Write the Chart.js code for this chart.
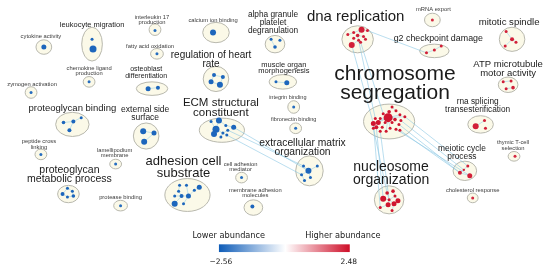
<!DOCTYPE html>
<html>
<head>
<meta charset="utf-8">
<script src="https://cdn.jsdelivr.net/npm/chart.js@4.4.0/dist/chart.umd.min.js"></script>
<style>
  html, body { margin: 0; padding: 0; background: #fff; }
  #wrap { width: 550px; height: 273px; position: relative; }
</style>
</head>
<body>
<div id="wrap"><canvas id="netChart"></canvas></div>
<script>
// ---- data ----
// term clusters (layout units: 0..550 across, 0..273 down)
const clusterNames = [
  'cytokine activity', 'leukocyte migration', 'interleukin 17\nproduction', 'fatty acid oxidation',
  'calcium ion binding', 'alpha granule\nplatelet\ndegranulation', 'dna replication', 'mRNA export',
  'g2 checkpoint damage', 'mitotic spindle', 'ATP microtubule\nmotor activity', 'chromosome\nsegregation',
  'rna splicing\ntransesterification', 'thymic T-cell\nselection', 'meiotic cycle\nprocess', 'nucleosome\norganization',
  'cholesterol response', 'zymogen activation', 'chemokine ligand\nproduction', 'osteoblast\ndifferentiation',
  'proteoglycan binding', 'external side\nsurface', 'peptide cross\nlinking', 'lamellipodium\nmembrane',
  'proteoglycan\nmetabolic process', 'protease binding', 'adhesion cell\nsubstrate', 'cell adhesion\nmediator',
  'membrane adhesion\nmolecules', 'regulation of heart\nrate', 'muscle organ\nmorphogenesis', 'integrin binding',
  'fibronectin binding', 'ECM structural\nconstituent', 'extracellular matrix\norganization'
];
// mean abundance (log2 fold change) of each cluster
const clusterScore = [
  -2.4, -2.4, -2.3, -2.3, -2.4, -2.4, 2.3, 2.2,
  2.3, 2.3, 2.3, 2.4, 2.3, 2.2, 2.3, 2.4,
  2.2, -2.3, -2.3, -2.4, -2.4, -2.4, -2.3, -2.3,
  -2.4, -2.3, -2.4, -2.3, -2.4, -2.4, -2.4, -2.3,
  -2.3, -2.4, -2.4
];
// cluster layout: centre and half-axes
const clusterX  = [40, 89, 153, 155, 215, 275, 359, 435, 437, 516, 512, 391, 484, 518, 468, 391, 476, 27, 86, 150, 69, 144, 37, 113, 65, 118, 186, 241, 253, 215, 283, 294, 296, 221, 310];
const clusterY  = [44, 41, 26, 51, 29, 41, 36, 16, 48, 36, 83, 121, 124, 157, 172, 202, 200, 91, 80, 87, 124, 136, 155, 165, 196, 208, 197, 179, 210, 77, 80, 106, 128, 130, 172];
const clusterRX = [8, 10.5, 6, 6.5, 13.5, 10, 16, 8, 15, 13, 10, 26, 13, 6, 12, 15, 5.5, 6, 6, 16, 17, 13, 6, 6, 11, 7, 23, 6, 9.5, 13, 14, 6, 6, 23, 14];
const clusterRY = [7.5, 17.5, 6, 5.5, 10.5, 9, 14, 7, 7, 12.5, 8, 18, 9, 5, 10, 14.5, 5, 6, 5.5, 7, 12.5, 13.5, 5.5, 5, 9, 5.5, 17, 5.5, 8, 13, 7.5, 6.5, 5.5, 12.5, 15.5];
// label anchor (centre of first line) and size
const labelX    = [37, 89, 150, 148, 212, 273, 357, 436, 441, 513, 512, 397, 481, 517, 465, 393, 476, 28, 86, 144, 69, 143, 35, 112, 66, 118, 182, 240, 255, 210, 284, 288, 294, 220, 303];
const labelY    = [33, 21, 13, 43, 16, 11, 13, 5.5, 35, 18, 62, 72, 101, 143, 149, 168, 192, 83, 66, 67, 107, 109, 142, 151, 171, 199, 162, 165, 192, 52, 62, 96, 119, 101.5, 143];
const labelSize = [5.8, 7.5, 5.8, 5.8, 5.8, 8.3, 15, 5.8, 8.9, 9.6, 9.5, 21, 8.3, 5.8, 8.4, 14, 5.8, 5.8, 5.8, 7, 9.5, 8.5, 5.8, 5.8, 10.5, 5.8, 13, 5.8, 5.8, 10, 7.5, 5.5, 5.6, 11.5, 10.3];

// member terms of each cluster: [x, y, size]
const clusterNodes = [
  [[40, 44, 2.5]],
  [[89, 36, 1.5], [90, 46, 3.5]],
  [[153, 27, 1.5]],
  [[155, 51, 1.5]],
  [[212, 29, 3]],
  [[271, 36, 1.5], [280, 37, 1.5], [275, 44, 1.8]],
  [[363, 26, 3], [355, 29, 1.5], [369, 27, 1.5], [349, 31, 1.5], [359, 32, 1.8], [365, 33, 1.5],
   [355, 35, 1.5], [360, 37, 1.5], [367, 36, 1.5], [353, 42, 3], [362, 39, 1.5]],
  [[435, 16, 1.5]],
  [[429, 50, 1.5], [437, 47, 1.5], [444, 43, 1.5]],
  [[510, 28, 1.5], [516, 36, 2], [509, 43, 1.5], [520, 39, 1.5]],
  [[507, 80, 1.5], [515, 79, 1.5], [510, 87, 1.5], [517, 86, 1.8]],
  [[390, 117, 4.5], [394, 106, 1.5], [398, 110, 1.5], [391, 111, 1.8], [385, 113, 1.5], [402, 114, 1.5],
   [407, 116, 1.5], [382, 118, 1.5], [377, 118, 1.5], [397, 119, 1.8], [403, 120, 1.5], [380, 122, 2.5],
   [387, 122, 1.5], [394, 122, 1.5], [375, 123, 2.5], [401, 124, 1.5], [378, 127, 2], [384, 127, 1.5],
   [392, 128, 1.5], [398, 129, 1.5], [382, 131, 1.5], [375, 128, 1.5], [388, 131, 1.5], [402, 130, 1.5]],
  [[479, 126, 3], [488, 120, 1.5], [489, 128, 1.5]],
  [[519, 157, 1.5]],
  [[463, 174, 2], [471, 167, 1.5], [473, 177, 2.5], [467, 171, 1.2]],
  [[389, 195, 1.8], [395, 193, 1.8], [385, 201, 3], [391, 202, 1.5], [397, 198, 1.5], [400, 203, 2.5],
   [390, 207, 2.5], [396, 206, 2.5], [382, 210, 1.5], [394, 213, 1.5]],
  [[476, 200, 1.5]],
  [[27, 91, 1.5]],
  [[86, 80, 1.5]],
  [[146, 87, 2.5], [156, 86, 2]],
  [[60, 122, 1.8], [70, 121, 2], [78, 117, 1.5], [66, 130, 2]],
  [[141, 131, 3], [152, 133, 2.5], [142, 142, 3]],
  [[37, 155, 1.5]],
  [[113, 165, 1.5]],
  [[64, 190, 1.5], [69, 193, 1.5], [59, 196, 2], [70, 198, 1.8], [64, 199, 1.5]],
  [[118, 208, 1.5]],
  [[185, 187, 1.5], [198, 189, 2.5], [177, 193, 1.5], [180, 198, 2], [187, 198, 2.5], [173, 198, 1.5],
   [173, 206, 3], [182, 206, 1.5], [193, 192, 1.5], [178, 187, 1.5]],
  [[241, 179, 1.5]],
  [[252, 209, 2]],
  [[213, 73, 2], [222, 75, 2], [210, 80, 2.5], [219, 83, 3]],
  [[276, 80, 1.5], [287, 81, 2.5]],
  [[294, 106, 1.5]],
  [[296, 128, 1.5]],
  [[210, 121, 1.5], [218, 120, 3], [225, 125, 1.5], [233, 127, 2.5], [215, 129, 3.5], [213, 134, 3],
   [222, 133, 1.5], [227, 130, 1.5], [220, 137, 1.5], [226, 135, 1.5]],
  [[309, 172, 3], [304, 167, 1.5], [318, 167, 1.5], [302, 176, 1.5], [311, 179, 1.5], [305, 182, 1.5]]
];

// shared-gene links between clusters: [clusterA, nodeA, clusterB, nodeB]
const crossLinks = [
  [6, 9, 11, 14], [6, 7, 11, 8], [6, 10, 11, 4], [6, 2, 8, 0],
  [11, 21, 15, 0], [11, 16, 15, 2], [11, 14, 15, 8], [11, 20, 15, 3],
  [11, 15, 14, 0], [11, 23, 14, 0], [11, 10, 14, 3], [11, 19, 14, 2], [11, 6, 14, 1],
  [33, 3, 34, 0], [33, 7, 34, 1], [33, 9, 34, 3]
];
// links inside a cluster: [cluster, nodeA, nodeB]
const innerLinks = [
  [6, 0, 1], [6, 0, 4], [6, 0, 2], [6, 4, 6], [6, 4, 7], [6, 7, 9], [6, 4, 5], [6, 1, 3], [6, 7, 10], [6, 5, 8],
  [11, 0, 3], [11, 0, 4], [11, 0, 5], [11, 0, 7], [11, 0, 9], [11, 0, 11], [11, 0, 12], [11, 0, 13],
  [11, 0, 14], [11, 0, 17], [11, 0, 18], [11, 0, 22], [11, 0, 6], [11, 14, 21], [11, 11, 16], [11, 2, 1],
  [15, 2, 3], [15, 3, 0], [15, 3, 4], [15, 3, 6], [15, 3, 7], [15, 6, 8], [15, 7, 9], [15, 1, 4], [15, 4, 5],
  [33, 4, 1], [33, 4, 6], [33, 1, 2], [33, 2, 3], [33, 6, 9], [33, 5, 4], [33, 6, 8], [33, 0, 4], [33, 7, 6],
  [34, 0, 1], [34, 0, 2], [34, 0, 3], [34, 0, 4], [34, 3, 5],
  [26, 4, 0], [26, 4, 3], [26, 4, 8], [26, 3, 2], [26, 3, 6], [26, 4, 7], [26, 1, 8], [26, 2, 9], [26, 5, 3],
  [29, 0, 1], [29, 0, 2], [29, 1, 3], [29, 2, 3],
  [20, 0, 1], [20, 1, 3], [20, 1, 2],
  [21, 0, 1], [21, 1, 2],
  [19, 0, 1],
  [24, 0, 1], [24, 1, 3], [24, 2, 4], [24, 0, 2], [24, 3, 4],
  [9, 0, 1], [9, 1, 2], [9, 1, 3],
  [8, 0, 1], [8, 1, 2],
  [10, 0, 1], [10, 2, 3],
  [12, 0, 1],
  [14, 0, 1], [14, 0, 2],
  [5, 0, 2],
  [30, 0, 1]
];

// colour scale
const scaleMin = -2.56;
const scaleMax = 2.48;
const scaleTicks = ['\u22122.56', '2.48'];
const scaleTitles = ['Lower abundance', 'Higher abundance'];

// ---- helpers ----
const LOW = [14, 92, 184];
const HIGH = [206, 14, 40];
const MID = [255, 255, 255];
const midFrac = (0 - scaleMin) / (scaleMax - scaleMin);

function mix(a, b, t) {
  return 'rgb(' + a.map((v, i) => Math.round(v + (b[i] - v) * t)).join(',') + ')';
}
function abundanceColor(v) {
  const t = (v - scaleMin) / (scaleMax - scaleMin);
  if (t < midFrac) return mix(LOW, MID, t / midFrac);
  return mix(MID, HIGH, (t - midFrac) / (1 - midFrac));
}

const nodePoints = [], nodeRadius = [], nodeColor = [];
clusterNodes.forEach((list, c) => {
  list.forEach(n => {
    nodePoints.push({ x: n[0], y: n[1] });
    nodeRadius.push(n[2]);
    nodeColor.push(abundanceColor(clusterScore[c]));
  });
});

function linkData(pairs) {
  const out = [];
  pairs.forEach(p => {
    const a = clusterNodes[p[0]][p[1]];
    const b = clusterNodes[p[2]][p[3]];
    out.push({ x: a[0], y: a[1] }, { x: b[0], y: b[1] }, { x: b[0], y: null });
  });
  return out;
}
const crossData = linkData(crossLinks);
const innerData = linkData(innerLinks.map(l => [l[0], l[1], l[0], l[2]]));

// cluster ellipses, drawn under the links
const clusterShapes = {
  id: 'clusterShapes',
  beforeDatasetsDraw(chart) {
    const { ctx, scales: { x, y } } = chart;
    ctx.save();
    clusterNames.forEach((name, i) => {
      const cx = x.getPixelForValue(clusterX[i]);
      const cy = y.getPixelForValue(clusterY[i]);
      const rx = Math.abs(x.getPixelForValue(clusterX[i] + clusterRX[i]) - cx);
      const ry = Math.abs(y.getPixelForValue(clusterY[i] + clusterRY[i]) - cy);
      ctx.beginPath();
      ctx.ellipse(cx, cy, rx, ry, 0, 0, Math.PI * 2);
      ctx.fillStyle = '#fbf9e8';
      ctx.fill();
      ctx.lineWidth = 1;
      ctx.strokeStyle = '#b8b8ae';
      ctx.stroke();
    });
    ctx.restore();
  }
};

// cluster names and colour bar
const clusterText = {
  id: 'clusterText',
  afterDatasetsDraw(chart) {
    const { ctx, scales: { x, y } } = chart;
    ctx.save();
    ctx.textAlign = 'center';
    ctx.textBaseline = 'middle';
    clusterNames.forEach((name, i) => {
      const size = labelSize[i];
      ctx.font = size + 'px "Liberation Sans", Arial, sans-serif';
      ctx.fillStyle = size < 7 ? '#3a3a3a' : '#1a1a1a';
      name.split('\n').forEach((line, k) => {
        ctx.fillText(line, x.getPixelForValue(labelX[i]), y.getPixelForValue(labelY[i] + k * size * 0.95));
      });
    });

    // colour bar
    const x0 = x.getPixelForValue(218), x1 = x.getPixelForValue(351);
    const y0 = y.getPixelForValue(248), y1 = y.getPixelForValue(256);
    const grad = ctx.createLinearGradient(x0, 0, x1, 0);
    grad.addColorStop(0, mix(LOW, LOW, 0));
    grad.addColorStop(midFrac, mix(MID, MID, 0));
    grad.addColorStop(1, mix(HIGH, HIGH, 0));
    ctx.fillStyle = grad;
    ctx.fillRect(x0, y0, x1 - x0, y1 - y0);

    ctx.fillStyle = '#222';
    ctx.font = '8.2px "DejaVu Sans", Verdana, sans-serif';
    ctx.fillText(scaleTitles[0], x.getPixelForValue(228), y.getPixelForValue(239));
    ctx.fillText(scaleTitles[1], x.getPixelForValue(344), y.getPixelForValue(239));
    ctx.font = '7.5px "DejaVu Sans", Verdana, sans-serif';
    ctx.fillText(scaleTicks[0], x.getPixelForValue(220), y.getPixelForValue(266));
    ctx.fillText(scaleTicks[1], x.getPixelForValue(350), y.getPixelForValue(266));
    ctx.restore();
  }
};

const netCtx = document.getElementById('netChart').getContext('2d');
const netChart = new Chart(netCtx, {
  type: 'scatter',
  data: {
    datasets: [
      {
        label: 'cross links',
        type: 'line',
        data: crossData,
        borderColor: 'rgba(140, 200, 228, 0.75)',
        borderWidth: 0.8,
        pointRadius: 0,
        spanGaps: false,
        order: 3
      },
      {
        label: 'inner links',
        type: 'line',
        data: innerData,
        borderColor: 'rgba(150, 208, 232, 0.8)',
        borderWidth: 0.7,
        pointRadius: 0,
        spanGaps: false,
        order: 2
      },
      {
        label: 'terms',
        data: nodePoints,
        pointRadius: nodeRadius,
        pointBackgroundColor: nodeColor,
        pointBorderWidth: 0,
        order: 1
      }
    ]
  },
  options: {
    responsive: true,
    maintainAspectRatio: false,
    animation: false,
    layout: { padding: 0 },
    scales: {
      x: { type: 'linear', min: 0, max: 550, display: false },
      y: { type: 'linear', min: 0, max: 273, reverse: true, display: false }
    },
    plugins: {
      legend: { display: false },
      tooltip: { enabled: false }
    }
  },
  plugins: [clusterShapes, clusterText]
});
</script>
</body>
</html>
